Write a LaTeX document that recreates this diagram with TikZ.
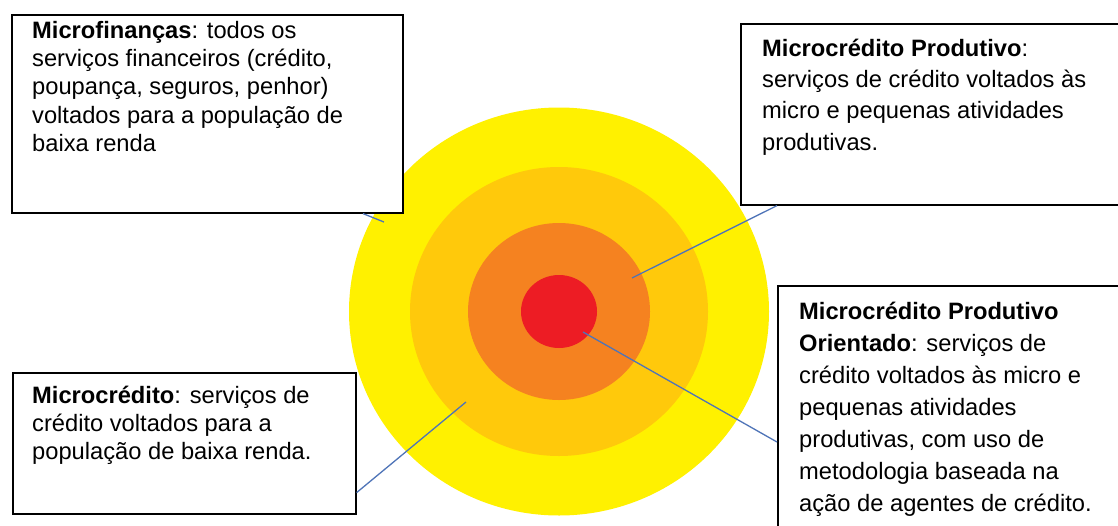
\documentclass[tikz,border=0pt]{standalone}
\usepackage{fontspec}
\setmainfont{Liberation Sans}
\definecolor{ring1}{HTML}{FFF100}
\definecolor{ring2}{HTML}{FFC90B}
\definecolor{ring3}{HTML}{F58220}
\definecolor{ring4}{HTML}{ED1C24}
\definecolor{conn}{HTML}{4F74B8}
\tikzset{
  box/.style={draw=black, line width=1.6pt, fill=white, anchor=north west, inner sep=0pt},
  txt/.style={anchor=north west, inner sep=0pt, align=left},
  connector/.style={draw=conn, line width=1.3pt},
}
\begin{document}
\begin{tikzpicture}[x=1pt,y=-1pt]
\useasboundingbox (0,0) rectangle (1118,525);
\clip (0,0) rectangle (1118,525);
\fill[white] (0,0) rectangle (1118,525);
% target rings
\fill[ring1] (559,311.5) ellipse [x radius=210pt, y radius=204pt];
\fill[ring2] (559,311.5) ellipse [x radius=149pt, y radius=144.5pt];
\fill[ring3] (559,311.5) ellipse [x radius=91pt, y radius=88.5pt];
\fill[ring4] (559,311.5) ellipse [x radius=38pt, y radius=36.5pt];
% boxes
\node[box, minimum width=391pt, minimum height=198pt] (b1) at (11,14) {};
\node[box, minimum width=400pt, minimum height=181pt] (b2) at (740,23) {};
\node[box, minimum width=343pt, minimum height=141pt] (b3) at (12,372) {};
\node[box, minimum width=400pt, minimum height=260pt] (b4) at (777,285) {};
% texts
\node[txt, font=\fontsize{23.7}{28.3}\selectfont] (t1) at (32,18)
  {\rule{0pt}{20pt}\textbf{Microfinanças}: todos os\\
   serviços financeiros (crédito,\\
   poupança, seguros, penhor)\\
   voltados para a população de\\
   baixa renda};
\node[txt, font=\fontsize{23.7}{31.3}\selectfont] (t2) at (762,36)
  {\rule{0pt}{20pt}\textbf{Microcrédito Produtivo}:\\
   serviços de crédito voltados às\\
   micro e pequenas atividades\\
   produtivas.};
\node[txt, font=\fontsize{23.7}{28.3}\selectfont] (t3) at (32,383)
  {\rule{0pt}{20pt}\textbf{Microcrédito}: serviços de\\
   crédito voltados para a\\
   população de baixa renda.};
\node[txt, font=\fontsize{23.7}{32}\selectfont] (t4) at (799,299)
  {\rule{0pt}{20pt}\textbf{Microcrédito Produtivo}\\
   \textbf{Orientado}: serviços de\\
   crédito voltados às micro e\\
   pequenas atividades\\
   produtivas, com uso de\\
   metodologia baseada na\\
   ação de agentes de crédito.};
% connector ends inside the rings
\coordinate (p1) at (384,222);
\coordinate (p2) at (632,278);
\coordinate (p3) at (466,402);
\coordinate (p4) at (583,332);
\draw[connector] ([xshift=352pt]b1.south west) -- (p1);
\draw[connector] (p2) -- ([xshift=37pt]b2.south west);
\draw[connector] (p3) -- ([yshift=22pt]b3.south east);
\draw[connector] (p4) -- ([yshift=-157pt]b4.north west);
\end{tikzpicture}
\end{document}
